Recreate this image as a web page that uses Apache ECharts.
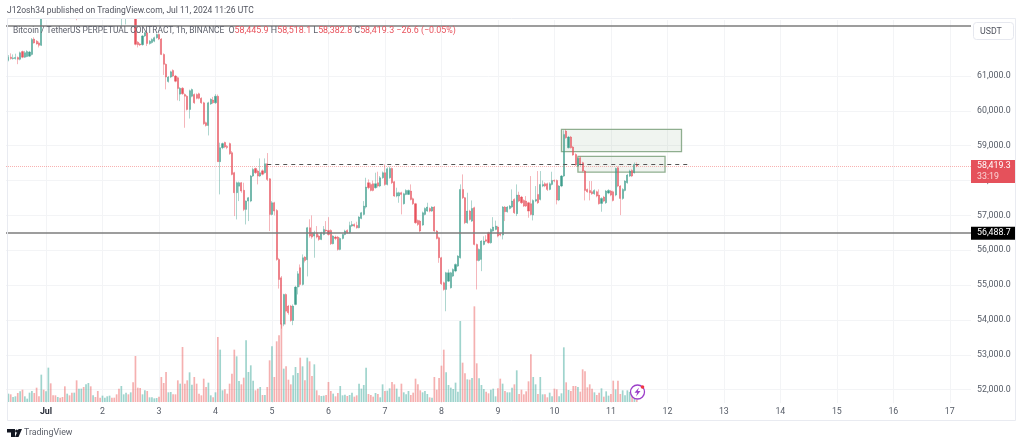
<!DOCTYPE html>
<html><head><meta charset="utf-8">
<style>html,body{margin:0;padding:0;background:#fff}#c{width:1024px;height:446px}</style>
<script src="https://cdn.jsdelivr.net/npm/echarts@6/dist/echarts.min.js"></script>
</head><body><div id="c"></div>
<script>
// one row per hour from Jun 30 08:00 to Jul 11 11:00 UTC: [open, close, low, high]
const candles = [
[61450,61540,61420,61600],[61540,61500,61470,61650],[61500,61520,61470,61620],[61500,61530,61470,61640],[61530,61480,61340,61560],[61480,61670,61450,61700],[61700,61540,61510,61730],[61540,61670,61520,61720],
[61560,61700,61540,61740],[61570,61690,61550,61720],[61620,62050,61590,62090],[62060,61950,61930,62110],[62000,61920,61900,62030],[61950,61880,61820,61990],[61880,63050,61860,63120],[63050,63000,62900,63200],
[63000,63100,62900,63150],[63100,63350,63050,63400],[63350,63150,63100,63400],[63150,63120,63080,63200],[63120,63090,63050,63180],[63090,63140,63060,63190],[63140,63100,63060,63180],[63100,63060,63020,63140],
[63060,62950,62900,63100],[62950,63010,62930,63060],[63010,62960,62900,63040],[62960,62900,62860,62990],[62900,62960,62880,63000],[62960,62760,62600,63000],[62760,62850,62720,62890],[62850,62930,62820,62960],
[62930,62840,62800,62960],[62840,62960,62820,63000],[62960,63060,62930,63100],[63060,62950,62920,63090],[62950,62990,62930,63010],[62990,62960,62930,63010],[62960,62880,62850,62990],[62880,62860,62830,62900],
[62860,62900,62840,62930],[62900,62920,62880,62950],[62920,62950,62900,62980],[62950,62990,62930,63010],[62990,62960,62940,63010],[62960,62930,62900,62980],[62930,62870,62840,62950],[62870,62780,62740,62890],
[62780,62900,62430,62930],[62900,62930,62860,62970],[62930,62990,62480,63020],[62990,62930,62890,63010],[62930,63010,62900,63050],[63010,62850,62700,63030],[62850,61908,61880,62880],[61970,61900,61820,62000],
[61920,61890,61860,61950],[61900,62150,61870,62180],[62150,62240,62120,62270],[62240,61930,61860,62270],[61930,62000,61900,62030],[61960,62050,61930,62080],[62000,62100,61970,62130],[62100,62190,62070,62220],
[62190,62060,62030,62220],[62060,61620,61600,62090],[61620,61334,61030,61650],[61334,60970,60616,61360],[60840,60970,60810,61000],[60970,61120,60940,61150],[61160,61000,60970,61190],[61000,60850,60820,61030],
[60950,60640,60300,60980],[60480,60650,60280,60680],[60650,60490,60460,60680],[60470,60420,59515,60500],[60420,60040,60010,60450],[60040,60580,59780,60610],[60420,60610,60390,60640],[60470,60230,60200,60500],
[60470,60360,60330,60500],[60490,60360,60330,60520],[60360,60230,60200,60390],[60230,59630,59600,60260],[59660,59580,59550,59690],[59580,60230,59295,60260],[60200,60330,60170,60360],[60310,60230,60200,60400],
[60230,60420,60200,60480],[60420,58541,58541,60470],[58541,58943,57603,59086],[58943,59060,58900,59090],[59095,58962,58930,59115],[58980,58950,58900,59020],[59060,58770,58740,59090],[58800,58177,58150,58847],
[58225,57651,56981,58250],[57651,57938,56885,57970],[57840,57938,57411,57970],[57938,57698,57650,57960],[57720,57172,57124,57938],[57172,57411,56741,57430],[57411,57507,56837,57530],[57411,58129,57380,58160],
[58129,58320,58100,58368],[58349,58225,58190,58370],[58273,58129,57890,58310],[58129,58225,58100,58636],[58280,58180,58150,58320],[58225,58483,58200,58636],[58483,58033,57985,58789],[58050,57029,56550,58070],
[57029,57363,57000,57411],[57363,57124,57000,57390],[57140,55737,55700,57180],[55737,55160,54900,55780],[55210,53880,53750,55260],[53880,54732,53820,54750],[54732,54253,53870,54760],[54397,54205,54150,54430],
[54397,53985,53950,54430],[53985,54397,53851,54445],[54445,54942,54420,54980],[54942,55325,54732,55400],[55500,55020,54950,55593],[55020,55785,54990,55880],[55804,55708,55650,55830],[55730,56646,55250,56670],
[56646,56406,56360,56890],[56502,56378,56330,57000],[56406,56502,55785,56560],[56502,56378,56340,56694],[56406,56311,56270,56450],[56311,56502,56290,56530],[56454,56598,56430,56694],[56580,56555,56520,56837],
[56569,56454,56420,56950],[56569,56186,56150,56600],[56186,56406,56170,56430],[56378,56340,56290,56420],[56378,56024,55990,56410],[56024,56340,56000,56370],[56340,56454,56310,56480],[56454,56550,56430,56590],
[56569,56502,56470,56600],[56502,56713,56480,56818],[56694,56741,56670,56837],[56741,56694,56660,56770],[56713,56646,56620,56818],[56646,56952,56630,56980],[56914,57076,56890,57100],[57029,57268,57000,57411],
[57239,57813,57200,58080],[57938,57794,57750,58033],[57890,57718,57690,57940],[57910,57718,57690,58000],[57794,57910,57770,58225],[57938,57842,57800,58255],[57842,58081,57810,58130],[58081,58225,58050,58260],
[58225,57890,57850,58463],[57890,58340,57860,58380],[58081,58349,58050,58400],[58349,57938,57900,58370],[57966,57555,57530,57990],[57555,57651,57520,57794],[57555,57651,57363,57680],[57651,57603,57029,57680],
[57335,57622,57310,57650],[57603,57718,57580,57750],[57603,57718,57590,57740],[57698,57459,57430,57890],[57478,57335,57300,57510],[57335,56789,56760,57360],[56856,56741,56700,56880],[56837,56550,56520,56870],
[56722,57076,56700,57110],[57029,57201,57000,57230],[57124,57239,57100,57363],[57201,57124,57090,57230],[57124,57239,57100,57260],[57239,56550,56520,57270],[56550,56340,56310,56580],[56359,55785,55640,56390],
[55785,55038,55000,55810],[55067,54875,54840,55100],[54875,55354,54250,55380],[55114,55354,55090,55450],[54923,55354,54900,55380],[55258,55449,55230,55480],[55402,55593,55370,55620],[55545,55834,55520,55860],
[55785,57746,55760,57890],[57746,57507,57470,58177],[57507,56789,56750,57530],[56789,57124,56760,57650],[57124,56885,56850,57160],[56837,57201,56810,57430],[57220,56167,56140,57250],[56167,55708,54875,56190],
[55708,56024,55680,56050],[55737,56263,55400,56290],[56167,56263,56140,56400],[56300,56260,56230,56430],[56502,56215,56190,56530],[56215,56598,56190,56630],[56550,56665,56530,56950],[56598,56694,56570,56850],
[56665,56406,56370,56700],[56473,56435,56400,56510],[56435,57239,56311,57268],[57239,57105,56837,57270],[57105,57239,57080,57270],[57200,57268,57170,57300],[57239,57411,57210,57746],[57459,57076,57040,57490],
[57048,57583,56981,57890],[57583,57411,57380,57679],[57526,57363,57330,57560],[57430,57268,57240,57460],[57411,57268,57240,57555],[57363,57124,56933,57390],[57335,57028,57000,58129],[57009,57430,56856,57460],
[57411,57459,57380,57842],[57603,57363,57330,58272],[57459,57890,57430,58272],[57842,57890,57810,58000],[57909,57842,57810,57950],[57909,57746,57700,57940],[57746,57909,57720,57950],[57890,58005,57860,58253],
[58005,57985,57950,58030],[58005,57440,57316,58030],[57440,57842,57410,57870],[57842,58129,57810,58160],[58129,59325,58100,59440],[59421,59230,59200,59470],[58942,59249,58920,59280],[59249,58942,58920,59280],
[58962,58732,58710,58990],[58751,58445,58420,58780],[58416,58636,58390,58660],[58655,58464,58430,58690],[58512,58272,58240,58540],[58272,57717,57430,58300],[57746,57679,57650,57770],[57717,57650,57430,57985],
[57679,57622,57590,57985],[57622,57717,57590,57750],[57679,57555,57520,57710],[57583,57335,57310,57746],[57344,57488,57105,57520],[57526,57410,57380,57560],[57363,57698,57330,57730],[57640,57717,57610,57750],
[57698,57583,57550,57730],[57679,57430,57400,57710],[57583,58349,57550,58370],[58368,57842,57810,58400],[57842,57488,57009,57870],[57488,57746,57450,57780],[57717,57985,57690,58010],[57938,58158,57910,58190],
[58129,58272,58100,58310],[58292,58129,58100,58320],[58225,58464,58200,58518],[58445.9,58419.3,58382.8,58518.1]
];
const volumes = [
25,23,15,17,27,32,37,17,10,28,33,27,43,17,82,37,
32,103,56,20,20,15,13,15,47,25,20,28,28,65,40,40,45,53,57,47,20,15,33,13,
19,13,17,19,13,13,23,40,48,23,28,23,29,59,138,43,42,23,35,33,14,14,11,12,
16,75,57,90,29,30,23,23,65,55,165,55,65,89,52,75,55,25,20,70,45,58,20,14,
29,195,157,35,38,25,55,85,157,137,63,53,73,185,90,110,64,35,40,45,21,21,45,125,
167,75,182,200,235,100,107,67,53,80,105,87,133,107,65,133,122,78,113,35,20,18,19,21,
60,33,25,17,27,48,20,22,18,21,28,16,20,55,40,51,103,24,21,16,27,24,14,53,
33,34,41,60,53,40,16,55,29,23,33,21,28,70,53,35,29,33,24,14,13,75,37,72,
109,157,89,51,43,39,58,31,243,118,86,68,67,72,287,116,71,51,39,31,26,37,40,17,
41,70,55,33,29,29,43,53,95,24,37,23,32,62,143,75,53,24,75,23,23,14,28,17,
40,38,17,26,164,59,36,33,48,48,45,31,98,92,44,53,40,29,21,28,41,16,32,19,
24,64,38,64,24,35,20,35,30,25,15,7
];
const priceTicks = [52000,53000,54000,55000,56000,57000,58000,59000,60000,61000];
const levelHigh = 62430, levelSupport = 56488.7, levelDashed = 58480, lastPrice = 58419.3;
const zoneUpper = [59469, 58828, '2024-07-10 03:00', '2024-07-12 06:00'];
const zoneLower = [58694, 58244, '2024-07-10 10:00', '2024-07-11 23:00'];

const UP = '#3f9e8c', DOWN = '#e8525c';
const cats = [];
const start = Date.UTC(2024, 5, 30, 7);
const pad = n => String(n).padStart(2, '0');
for (let i = 0; i < 411; i++) {
  const d = new Date(start + i * 3600e3);
  cats.push(`2024-${pad(d.getUTCMonth()+1)}-${pad(d.getUTCDate())} ${pad(d.getUTCHours())}:00`);
}
const isDay = v => v.endsWith(' 00:00');
const dayLabel = v => { const n = +v.slice(8,10); return n === 1 ? '{m|Jul}' : String(n); };
const emptyCandle = ['-','-','-','-'];
const chart = echarts.init(document.getElementById('c'), null, {renderer:'canvas'});
const FONT = 'Roboto';
const grey = '#555b66';
const AX = 8.8;
const legendRich = {
  g:{color:'#5d606b',fontSize:8.4,fontFamily:FONT},
  h:{color:'#5d606b',fontSize:8.9,fontFamily:FONT},
  r:{color:'#e8525c',fontSize:8.9,fontFamily:FONT}
};
chart.setOption({
  animation:false,
  backgroundColor:'#fff',
  title:[
    {text:'J12osh34 published on TradingView.com, Jul 11, 2024 11:26 UTC',left:7,top:6,padding:0,z:20,
     textStyle:{color:'#50535e',fontSize:8.5,fontWeight:'normal',fontFamily:FONT}},
    {text:'{g|Bitcoin / TetherUS PERPETUAL CONTRACT, 1h, BINANCE  }{h|O}{r|58,445.9}{h| H}{r|58,518.1}{h| L}{r|58,382.8}{h| C}{r|58,419.3}{r| −26.6 (−0.05%)}',left:13,top:26,padding:0,z:20,
     textStyle:{rich:legendRich,fontSize:8.9,fontWeight:'normal',fontFamily:FONT}},
    {text:'TradingView',left:24,top:428,padding:0,z:20,
     textStyle:{color:'#5a5e68',fontSize:8.8,fontWeight:'normal',fontFamily:FONT}}
  ],
  grid:[
    {left:6,width:965,top:20,height:383,containLabel:false},
    {left:6,width:965,top:302,height:100,containLabel:false}
  ],
  xAxis:[
    {type:'category',gridIndex:0,data:cats,boundaryGap:false,
     axisLine:{show:false},axisTick:{show:false},
     axisLabel:{interval:(i,v)=>isDay(v),formatter:v=>dayLabel(v),color:grey,fontSize:AX,fontFamily:FONT,margin:4,
       rich:{m:{color:'#2a2e39',fontWeight:'bold',fontSize:AX,fontFamily:FONT}}},
     splitLine:{show:true,interval:(i,v)=>isDay(v),lineStyle:{color:'#f3f4f6',width:1}}},
    {type:'category',gridIndex:1,data:cats,boundaryGap:false,show:false}
  ],
  yAxis:[
    {type:'value',gridIndex:0,position:'right',min:51617,max:62607,scale:true,
     axisLine:{show:false},
     axisTick:{show:false,customValues:priceTicks},
     axisLabel:{customValues:priceTicks,color:grey,fontSize:AX,fontFamily:FONT,margin:6,
       formatter:v=>v.toLocaleString('en-US',{minimumFractionDigits:1,maximumFractionDigits:1})},
     splitLine:{show:true,lineStyle:{color:'#f3f4f6',width:1}}},
    {type:'value',gridIndex:1,min:0,max:300,show:false,splitLine:{show:false}}
  ],
  series:[
    {type:'bar',name:'Volume',xAxisIndex:1,yAxisIndex:1,barWidth:1.7,z:2,
     data:[null].concat(volumes.map((v,i)=>({value:v,itemStyle:{color:candles[i][1]>=candles[i][0]?'rgba(63,170,155,.5)':'rgba(235,90,90,.48)'}})))},
    {type:'candlestick',name:'BTCUSDT',xAxisIndex:0,yAxisIndex:0,barWidth:1.6,z:5,clip:true,
     data:[emptyCandle].concat(candles),
     itemStyle:{color:UP,color0:DOWN,borderColor:'rgba(63,158,140,.42)',borderColor0:'rgba(232,82,92,.42)',borderWidth:1},
     markArea:{silent:true,z:1,
       itemStyle:{color:'rgba(90,130,90,.09)',borderColor:'#8fae8f',borderWidth:1.3},
       data:[
        [{xAxis:zoneUpper[2],yAxis:zoneUpper[0]},{xAxis:zoneUpper[3],yAxis:zoneUpper[1]}],
        [{xAxis:zoneLower[2],yAxis:zoneLower[0]},{xAxis:zoneLower[3],yAxis:zoneLower[1]}]
       ]},
     markLine:{silent:true,symbol:'none',z:6,animation:false,
       data:[
        {yAxis:levelHigh,lineStyle:{color:'#7d7d7d',width:1.5,type:'solid'},label:{show:false}},
        {yAxis:levelSupport,lineStyle:{color:'#7d7d7d',width:1.5,type:'solid'},
         label:{show:true,position:'end',distance:0,formatter:'56,488.7',backgroundColor:'#000',color:'#fff',
           fontSize:AX,fontFamily:FONT,padding:[2,5,2,6],align:'left'}},
        {yAxis:lastPrice,lineStyle:{color:'rgba(239,83,80,.45)',width:1,type:'dotted'},
         label:{show:true,position:'end',distance:0,offset:[0,5.5],formatter:'{a|58,419.3}\n{b|33:19}',backgroundColor:'#e5515b',
           padding:[0,5,1,6],
           rich:{a:{color:'#fff',fontSize:AX,fontFamily:FONT,lineHeight:11},b:{color:'#fbd5d7',fontSize:AX,fontFamily:FONT,lineHeight:11}}}},
        [{xAxis:'2024-07-04 22:00',yAxis:levelDashed,lineStyle:{color:'#555',width:1,type:[4,4]},label:{show:false}},
         {xAxis:'2024-07-12 10:00',yAxis:levelDashed}]
       ]}
    }
  ],
  graphic:[
    // white band above the pane: candles above the visible price range stop at the pane's top edge
    {type:'rect',shape:{x:0,y:0,width:1024,height:18.5},style:{fill:'#fff'},z:8,silent:true},
    {type:'rect',shape:{x:7.5,y:18.5,width:1008,height:402},style:{fill:'none',stroke:'#e9ebf1',lineWidth:1},z:9,silent:true},
    {type:'rect',shape:{x:973.5,y:22.5,width:40,height:17,r:3},style:{fill:'#fff',stroke:'#e6e8ef',lineWidth:1},z:10},
    {type:'text',x:980,y:27,style:{text:'USDT',fill:'#50535e',font:'8.8px '+FONT},z:11},
    // TradingView logo
    {type:'polygon',shape:{points:[[7,429],[15,429],[15,437],[11,437],[11,432.5],[7,432.5]]},style:{fill:'#131722'},z:11},
    {type:'circle',shape:{cx:16.6,cy:431,r:1.5},style:{fill:'#131722'},z:11},
    {type:'polygon',shape:{points:[[18.5,429],[22,429],[18.5,437],[15,437]]},style:{fill:'#131722'},z:11},
    // lightning badge
    {type:'circle',shape:{cx:637.5,cy:392,r:7},style:{fill:'#fff',stroke:'#9c3fc9',lineWidth:1.3},z:12},
    {type:'polygon',shape:{points:[[639,387.5],[634.5,392.8],[637.2,392.8],[636,396.5],[640.5,391],[637.8,391]]},style:{fill:'#9c3fc9'},z:13},
    {type:'circle',shape:{cx:642.5,cy:387,r:1.8},style:{fill:'#f23645'},z:13}
  ]
});
</script></body></html>
